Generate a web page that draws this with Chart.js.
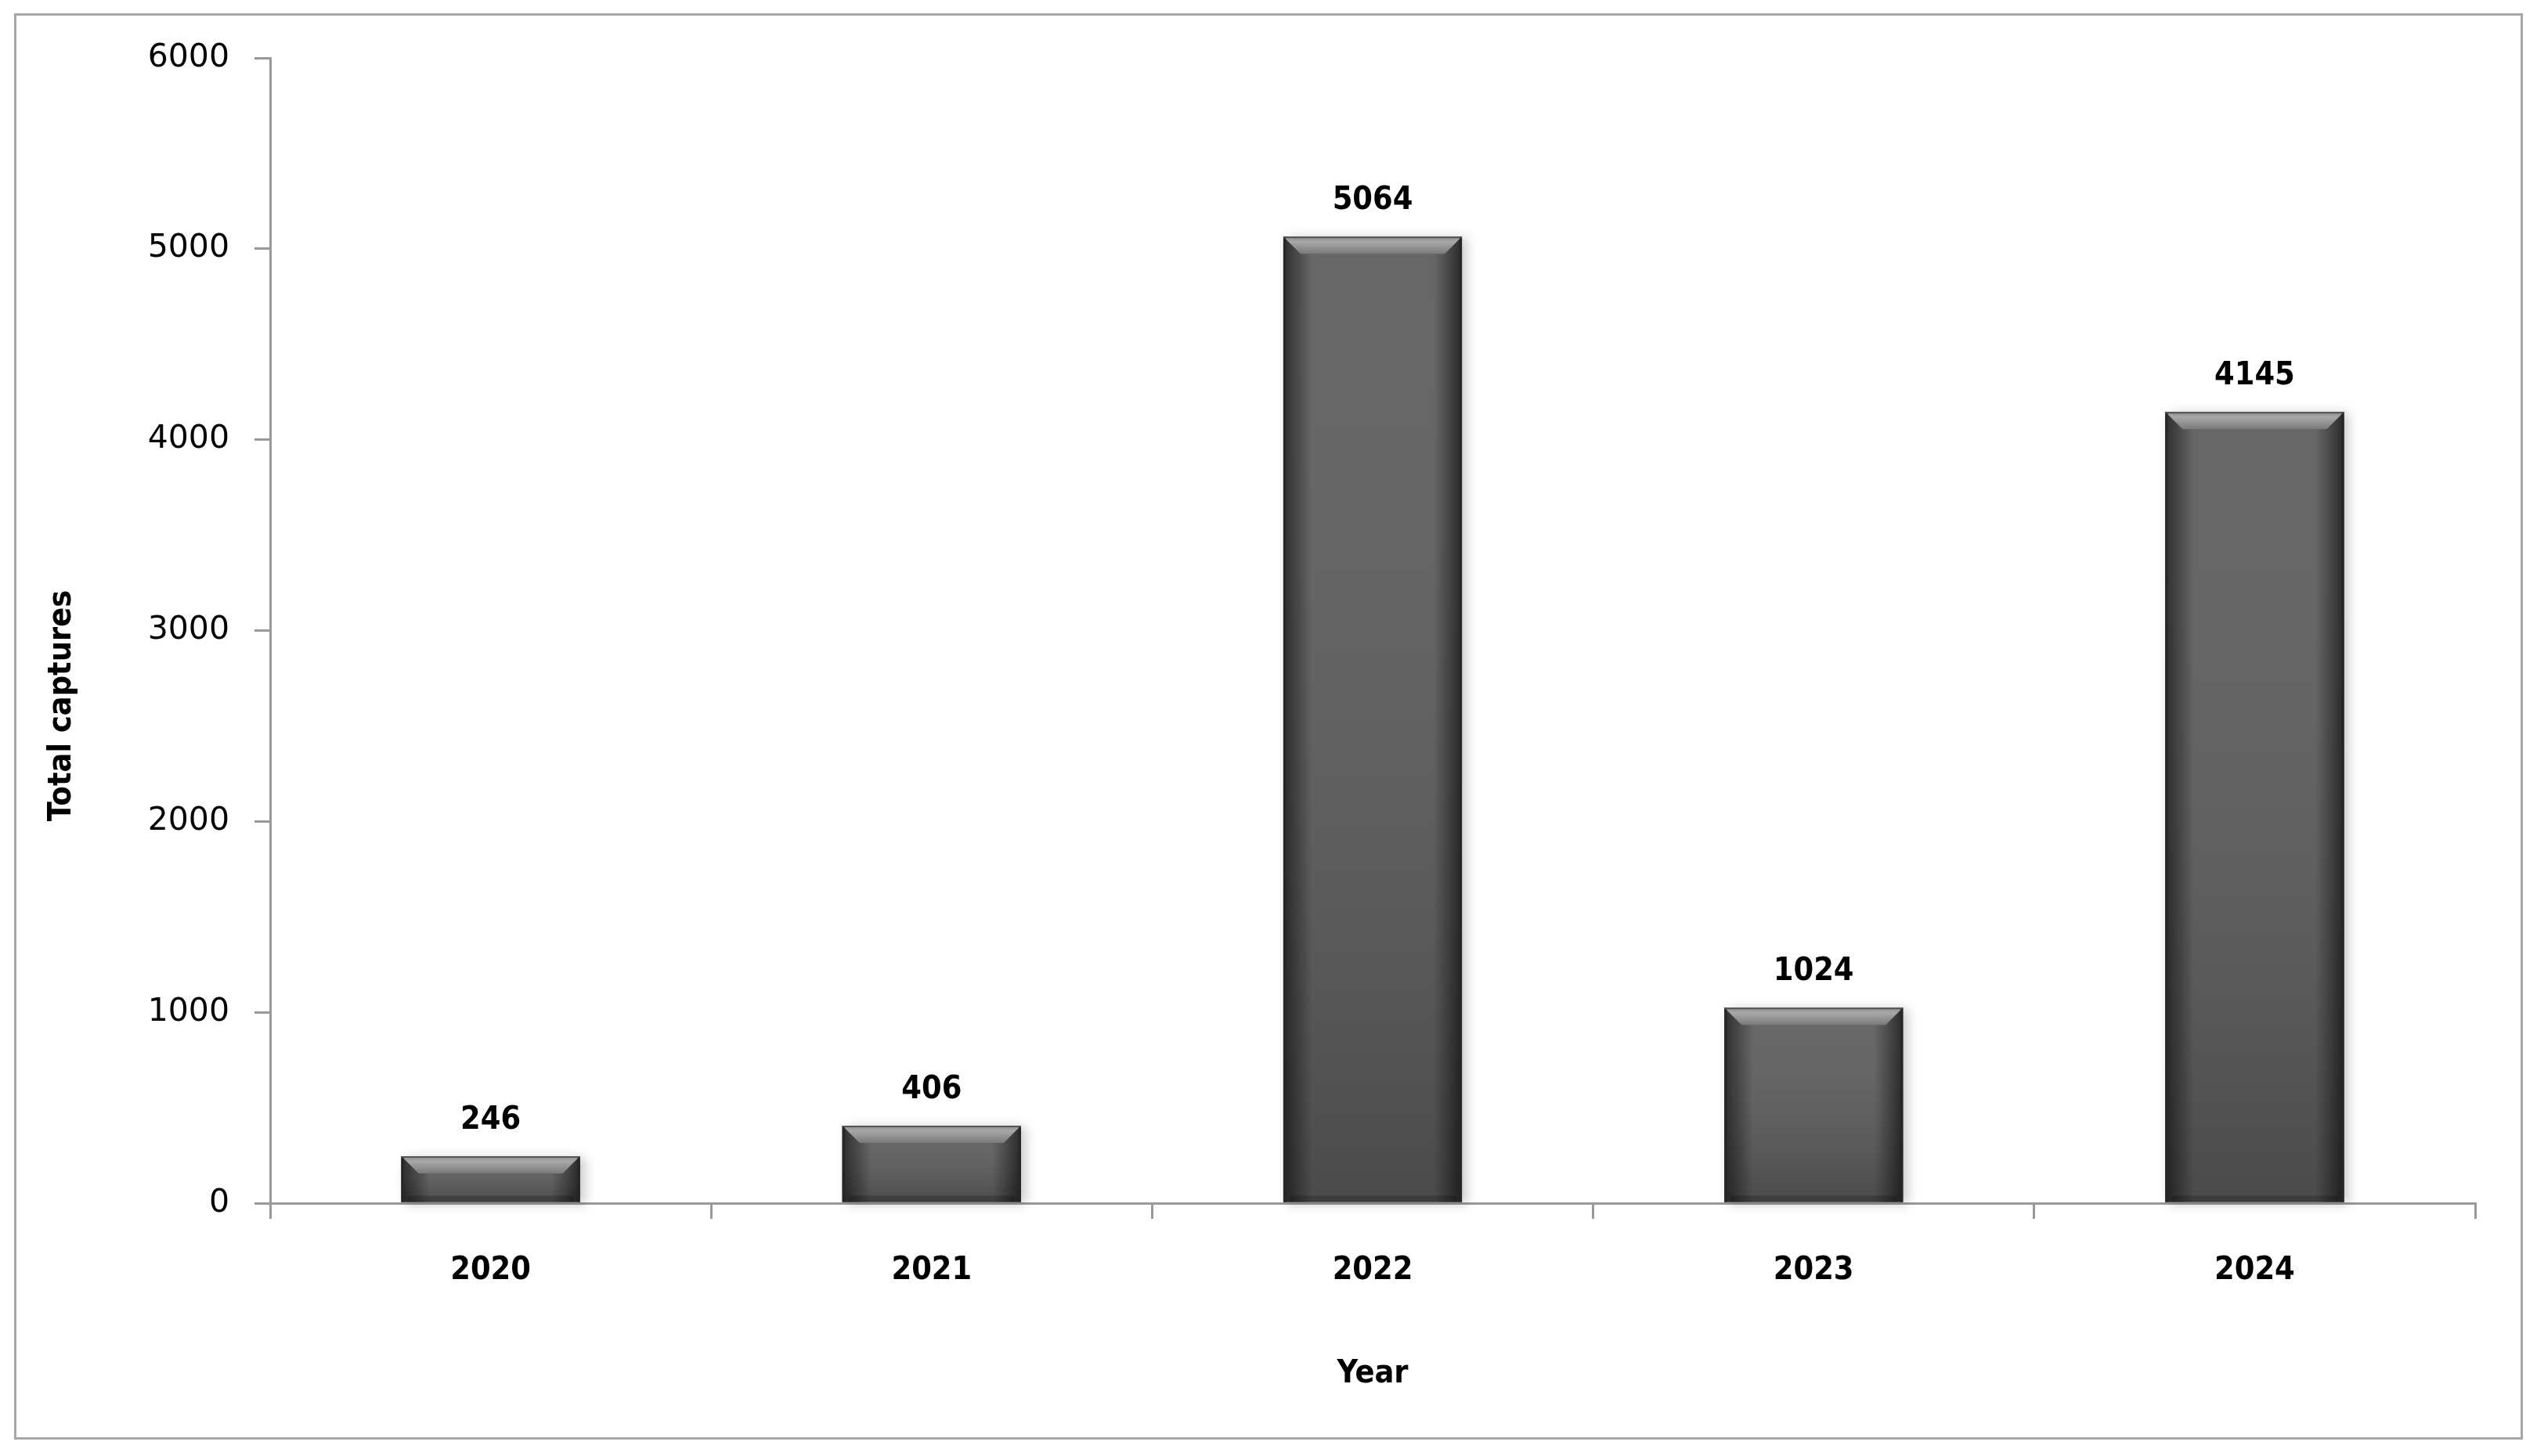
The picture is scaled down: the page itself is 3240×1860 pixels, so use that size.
<!DOCTYPE html>
<html>
<head>
<meta charset="utf-8">
<title>Total captures by year</title>
<script src="https://cdn.jsdelivr.net/npm/chart.js@4.4.1/dist/chart.umd.min.js"></script>
<style>
  html, body { margin: 0; padding: 0; background: #fff; }
  #wrap { position: relative; width: 3240px; height: 1860px; }
  #frame {
    position: absolute; left: 18px; top: 17px; width: 3204px; height: 1822px;
    border: 3px solid #a6a6a6; box-sizing: border-box;
  }
  #chart { position: absolute; left: 0; top: 0; }
</style>
</head>
<body>
<div id="wrap">
  <div id="frame"></div>
  <canvas id="chart" width="3240" height="1860"></canvas>
</div>
<script>
// data
const years = ['2020', '2021', '2022', '2023', '2024'];
const captures = [246, 406, 5064, 1024, 4145];
const yTicks = [0, 1000, 2000, 3000, 4000, 5000, 6000];

const AXIS_GRAY = '#999999';
const REG_FONT = "'DejaVu Sans', Verdana, sans-serif";
const BOLD_FONT = "'DejaVu Sans Condensed', 'DejaVu Sans', Tahoma, sans-serif";

// --- bar bevel look + value labels ---
const bevelBars = {
    id: 'bevelBars',
    beforeDatasetsDraw(chart) {
        const ctx = chart.ctx;
        chart.getDatasetMeta(0).data.forEach(bar => {
            const { x, y, base, width } = bar.getProps(['x', 'y', 'base', 'width'], true);
            ctx.save();
            ctx.shadowColor = 'rgba(0,0,0,0.22)';
            ctx.shadowBlur = 14;
            ctx.shadowOffsetX = 6;
            ctx.shadowOffsetY = 2;
            ctx.fillStyle = '#5d5d5d';
            ctx.fillRect(x - width / 2, y, width, base - y);
            ctx.restore();
        });
    },
    afterDatasetsDraw(chart) {
        const ctx = chart.ctx;
        chart.getDatasetMeta(0).data.forEach((bar, i) => {
            const { x, y, base, width } = bar.getProps(['x', 'y', 'base', 'width'], true);
            const l = x - width / 2, r = x + width / 2, h = base - y;
            ctx.save();

            // darker towards the bottom
            const gv = ctx.createLinearGradient(0, y, 0, base);
            gv.addColorStop(0, 'rgba(255,255,255,0.06)');
            gv.addColorStop(1, 'rgba(0,0,0,0.2)');
            ctx.fillStyle = gv;
            ctx.fillRect(l, y, width, h);

            // rounded sides
            const gh = ctx.createLinearGradient(l, 0, r, 0);
            gh.addColorStop(0, 'rgba(0,0,0,0.55)');
            gh.addColorStop(0.09, 'rgba(0,0,0,0.25)');
            gh.addColorStop(0.16, 'rgba(0,0,0,0)');
            gh.addColorStop(0.84, 'rgba(0,0,0,0)');
            gh.addColorStop(0.91, 'rgba(0,0,0,0.25)');
            gh.addColorStop(1, 'rgba(0,0,0,0.6)');
            ctx.fillStyle = gh;
            ctx.fillRect(l, y, width, h);

            // top bevel
            const b = Math.min(22, h * 0.4);
            const gt = ctx.createLinearGradient(0, y, 0, y + b);
            gt.addColorStop(0, '#8c8c8c');
            gt.addColorStop(0.3, '#a8a8a8');
            gt.addColorStop(1, '#7a7a7a');
            ctx.fillStyle = gt;
            ctx.beginPath();
            ctx.moveTo(l, y);
            ctx.lineTo(r, y);
            ctx.lineTo(r - b, y + b);
            ctx.lineTo(l + b, y + b);
            ctx.closePath();
            ctx.fill();

            // bottom band
            const bb = Math.min(8, h * 0.15);
            ctx.fillStyle = 'rgba(0,0,0,0.18)';
            ctx.fillRect(l + bb, base - bb, width - 2 * bb, bb);

            // dark edges
            ctx.strokeStyle = '#262626';
            ctx.lineWidth = 3;
            ctx.beginPath();
            ctx.moveTo(l + 1.5, y);
            ctx.lineTo(l + 1.5, base);
            ctx.moveTo(r - 1.5, y);
            ctx.lineTo(r - 1.5, base);
            ctx.stroke();
            ctx.strokeStyle = '#555';
            ctx.lineWidth = 2;
            ctx.beginPath();
            ctx.moveTo(l, y + 1);
            ctx.lineTo(r, y + 1);
            ctx.stroke();

            // value label
            ctx.fillStyle = '#000';
            ctx.font = `bold 41px ${BOLD_FONT}`;
            ctx.textAlign = 'center';
            ctx.textBaseline = 'alphabetic';
            ctx.fillText(String(captures[i]), x, y - 35);
            ctx.restore();
        });
    }
};

// y title sits a bit below the middle of the axis in the original
function shiftTitle(scale, dy) {
    const proto = Object.getPrototypeOf(scale);
    scale.drawTitle = function () {
        this.ctx.save();
        this.ctx.translate(0, dy);
        proto.drawTitle.call(this);
        this.ctx.restore();
    };
}

const ctx = document.getElementById('chart').getContext('2d');
const chart = new Chart(ctx, {
    type: 'bar',
    data: {
        labels: years,
        datasets: [{
            label: 'Total captures',
            data: captures,
            backgroundColor: '#5d5d5d',
            borderWidth: 0,
            categoryPercentage: 1,
            barPercentage: 0.405
        }]
    },
    options: {
        responsive: false,
        animation: false,
        devicePixelRatio: 1,
        layout: { padding: { top: 74, right: 79, bottom: 0, left: 0 } },
        plugins: {
            legend: { display: false },
            tooltip: { enabled: false }
        },
        scales: {
            x: {
                offset: true,
                grid: {
                    display: true,
                    offset: true,
                    drawOnChartArea: false,
                    drawTicks: true,
                    tickLength: 20,
                    color: AXIS_GRAY,
                    lineWidth: 3
                },
                border: { display: true, color: AXIS_GRAY, width: 3 },
                ticks: {
                    color: '#000',
                    padding: 42,
                    font: { family: BOLD_FONT, size: 41, weight: 'bold' }
                },
                title: {
                    display: true,
                    text: 'Year',
                    color: '#000',
                    padding: { top: 0, bottom: 80 },
                    font: { family: BOLD_FONT, size: 41, weight: 'bold' }
                },
                afterFit: scale => { scale.height = 323; }
            },
            y: {
                min: 0,
                max: 6000,
                afterBuildTicks: scale => { scale.ticks = yTicks.map(v => ({ value: v })); },
                grid: {
                    display: true,
                    drawOnChartArea: false,
                    drawTicks: true,
                    tickLength: 20,
                    color: AXIS_GRAY,
                    lineWidth: 3
                },
                border: { display: true, color: AXIS_GRAY, width: 3 },
                ticks: {
                    color: '#000',
                    padding: 32,
                    font: { family: REG_FONT, size: 41 },
                    callback: v => String(v)
                },
                title: {
                    display: true,
                    text: 'Total captures',
                    color: '#000',
                    padding: { top: 55, bottom: 0 },
                    font: { family: BOLD_FONT, size: 41, weight: 'bold' }
                },
                afterFit: scale => { scale.width = 345; shiftTitle(scale, 96); }
            }
        }
    },
    plugins: [bevelBars]
});
</script>
</body>
</html>
